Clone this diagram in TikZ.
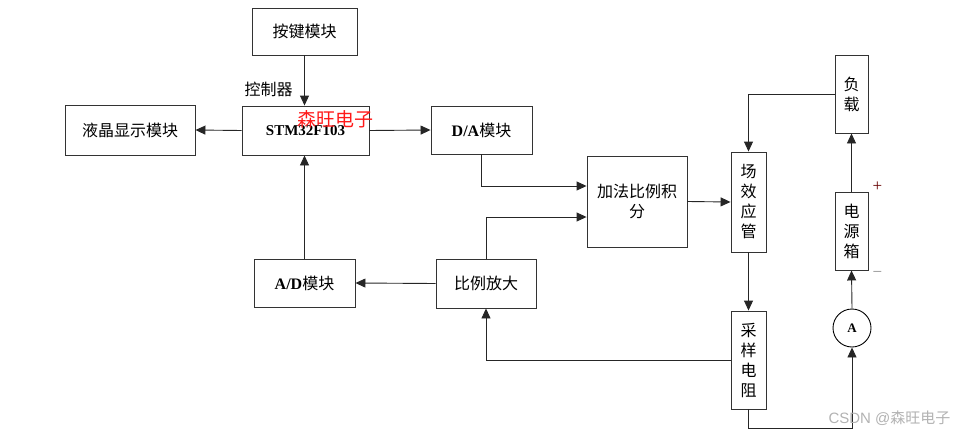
\documentclass[tikz,border=0pt]{standalone}
\usepackage{fontspec}
\setmainfont{Liberation Serif}
\newfontfamily\cjk{Noto Sans CJK SC}
\newfontfamily\wmsans{Liberation Sans}
\usetikzlibrary{arrows.meta}
\begin{document}
\begin{tikzpicture}[x=1pt,y=-1pt,
  blk/.style={draw=black!80,line width=0.9pt,rectangle,inner sep=0pt,align=center,
    font=\fontsize{16}{20}\selectfont\cjk},
  circ/.style={draw=black,line width=0.9pt,circle,inner sep=0pt,minimum size=38pt,
    font=\fontsize{13}{13}\selectfont\bfseries},
  arr/.style={draw=black!85,line width=0.9pt,-{Triangle[length=10pt,width=9pt]}},
  lbl/.style={inner sep=0pt,font=\fontsize{16}{20}\selectfont\cjk}]
\useasboundingbox (0,0) rectangle (973,436);
% boxes
\node[blk,minimum width=105pt,minimum height=47pt] (key) at (304.5,31.5) {按键模块};
\node[blk,minimum width=127pt,minimum height=49pt,font=\fontsize{15}{18}\selectfont\bfseries] (mcu) at (305.5,130.5) {STM32F103};
\node[blk,minimum width=130pt,minimum height=50pt] (lcd) at (130,130) {液晶显示模块};
\node[blk,minimum width=101pt,minimum height=48pt] (da) at (481.5,130) {{\rmfamily\bfseries D/A}模块};
\node[blk,minimum width=100pt,minimum height=91pt] (add) at (637,201.5) {加法比例积\\分};
\node[blk,minimum width=35pt,minimum height=100pt] (fet) at (748.5,202) {场\\效\\应\\管};
\node[blk,minimum width=33pt,minimum height=78pt] (load) at (851.5,94) {负\\载};
\node[blk,minimum width=33pt,minimum height=78pt] (psu) at (851.5,231) {电\\源\\箱};
\node[circ] (amm) at (852,328) {A};
\node[blk,minimum width=35pt,minimum height=98pt] (res) at (748.5,360) {采\\样\\电\\阻};
\node[blk,minimum width=100pt,minimum height=49pt] (amp) at (486,283.5) {比例放大};
\node[blk,minimum width=101pt,minimum height=48pt] (ad) at (304.5,283) {{\rmfamily\bfseries A/D}模块};
% labels
\node[lbl] (ctl) at (268.5,89) {控制器};
\node[inner sep=0pt,font=\fontsize{17}{17}\selectfont,text=black!60!red] (plus) at (877.5,187) {+};
\node[inner sep=0pt,font=\fontsize{17}{17}\selectfont,text=black!45] (minus) at (877.5,274) {\textminus};
% connectors
\draw[arr] (key.south) -- (key.south |- mcu.north);
\draw[arr] (mcu.west) -- (lcd.east);
\draw[arr] (mcu.east) -- (da.west);
\draw[arr] (da.south) |- ([yshift=15.5pt]add.west);
\draw[arr] (amp.north) |- ([yshift=-15.5pt]add.west);
\draw[arr] (add.east) -- (fet.west);
\draw[arr] (load.west) -| (fet.north);
\draw[arr] (fet.south) -- (res.north);
\draw[arr] (psu.north) -- (load.south);
\draw[arr] (amm.north) -- (psu.south);
\coordinate (bot) at (748.5,428);
\draw[arr] (res.south) -- (bot) -| (amm.south);
\draw[arr] (res.west) -| (amp.south);
\draw[arr] (amp.west) -- (ad.east);
\draw[arr] (ad.north) -- (ad.north |- mcu.south);
% watermarks
\node[inner sep=0pt,text=red!90!white,font=\fontsize{19}{19}\selectfont\cjk] (wm1) at (335.5,119) {森旺电子};
\node[inner sep=0pt,text=black!30,font=\fontsize{15}{15}\selectfont\wmsans] (wm2) at (889.5,418) {CSDN @{\cjk 森旺电子}};
\end{tikzpicture}
\end{document}
